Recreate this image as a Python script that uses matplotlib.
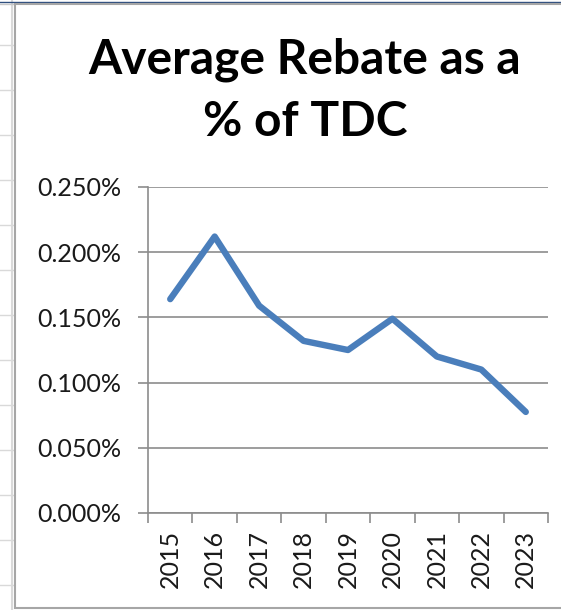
import matplotlib
matplotlib.use("Agg")
import matplotlib.pyplot as plt
from matplotlib.ticker import FuncFormatter, FixedLocator
from matplotlib.lines import Line2D
from matplotlib.patches import Rectangle

years = ["2015", "2016", "2017", "2018", "2019", "2020", "2021", "2022", "2023"]
rebate_pct = [0.164, 0.212, 0.159, 0.132, 0.125, 0.149, 0.120, 0.110, 0.0775]
y_ticks = [0.0, 0.05, 0.10, 0.15, 0.20, 0.25]

W, H = 561, 610
DPI = 100
fig = plt.figure(figsize=(W / DPI, H / DPI), dpi=DPI)
fig.patch.set_facecolor("white")

def fx(px):
    return px / W

def fy(py):
    return 1 - py / H

# worksheet cells peeking out at the left and the top edge
for yy in range(45, 610, 45):
    fig.add_artist(Line2D([0, fx(15)], [fy(yy), fy(yy)], color="#d9d9d9", lw=1.0, zorder=-2))
fig.add_artist(Line2D([fx(11.5), fx(11.5)], [0, 1], color="#d9d9d9", lw=1.5, zorder=-2))
fig.add_artist(Line2D([0, 1], [fy(2), fy(2)], color="#2f4f7f", lw=1.0, zorder=-2))
fig.add_artist(Line2D([0, 1], [fy(3.5), fy(3.5)], color="#c8c8c8", lw=1.0, zorder=-2))

# chart area frame
fig.add_artist(Rectangle((fx(15), fy(608)), 1.2, fy(4) - fy(608), transform=fig.transFigure,
                         facecolor="white", edgecolor="#a6a6a6", lw=1.5, zorder=-1))

left, right, top, bottom = 148, 548, 187, 513
ax = fig.add_axes([fx(left), fy(bottom), fx(right - left), fy(top) - fy(bottom)])
ax.set_zorder(2)
ax.set_facecolor("none")

x = list(range(len(years)))
ax.plot(x, rebate_pct, color="#4a7ebb", lw=4.6, solid_capstyle="round",
        solid_joinstyle="round", zorder=3, clip_on=False)

ax.set_xlim(-0.5, len(years) - 0.5)
ax.set_ylim(0, 0.25)

ax.set_yticks(y_ticks)
ax.yaxis.set_major_formatter(FuncFormatter(lambda v, p: f"{v:.3f}%"))
ax.grid(axis="y", color="#8c8c8c", lw=1.2, zorder=1)

ax.set_xticks(x)
ax.set_xticklabels(years, rotation=90)
ax.xaxis.set_minor_locator(FixedLocator([i - 0.5 for i in range(len(years) + 1)]))
ax.tick_params(axis="x", which="major", length=0, pad=12)
ax.tick_params(axis="x", which="minor", length=7.2, width=1.2, color="#8c8c8c", direction="out")
ax.tick_params(axis="y", which="major", length=7.2, width=1.2, color="#8c8c8c", pad=12)

for lbl in ax.get_xticklabels() + ax.get_yticklabels():
    lbl.set_fontfamily("Lato")
    lbl.set_fontsize(18)
    lbl.set_color("#1a1a1a")

for side in ("top", "right"):
    ax.spines[side].set_visible(False)
for side in ("left", "bottom"):
    ax.spines[side].set_color("#8c8c8c")
    ax.spines[side].set_linewidth(1.2)

fig.text(fx(305), fy(60), "Average Rebate as a", ha="center", va="center",
         fontfamily="Lato", fontweight="bold", fontsize=34.5, color="black")
fig.text(fx(305), fy(122), "% of TDC", ha="center", va="center",
         fontfamily="Lato", fontweight="bold", fontsize=34.5, color="black")

fig.savefig("out.png", dpi=DPI, facecolor="white")
